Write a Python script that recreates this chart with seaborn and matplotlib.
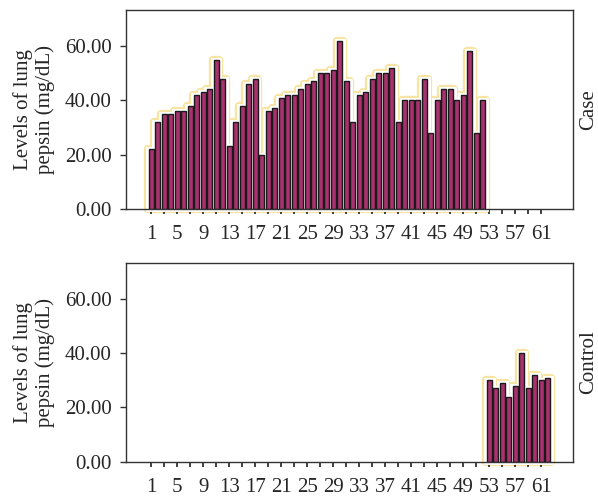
import numpy as np
import pandas as pd
import matplotlib
matplotlib.use("Agg")
import matplotlib.pyplot as plt
import seaborn as sns

# values (subjects 1-52 case, 53-62 control)
case_values = [22, 32, 35, 35, 36, 36, 38, 42, 43, 44,
               55, 48, 23, 32, 38, 46, 48, 20, 36, 37,
               41, 42, 42, 44, 46, 47, 50, 50, 51, 62,
               47, 32, 42, 43, 48, 50, 50, 52, 32, 40,
               40, 40, 48, 28, 40, 44, 44, 40, 42, 58,
               28, 40]
control_values = [30, 27, 29, 24, 28, 40, 27, 32, 30, 31]
subjects = [str(i) for i in range(1, len(case_values) + len(control_values) + 1)]
groups = ["Case", "Control"]
y_ticks = [0, 20, 40, 60]

df = pd.DataFrame({
    "subject": subjects,
    "pepsin": case_values + control_values,
    "group": ["Case"] * len(case_values) + ["Control"] * len(control_values),
})

sns.set_style("ticks")
plt.rcParams["font.family"] = "serif"
plt.rcParams["font.serif"] = ["Liberation Serif", "DejaVu Serif"]
fs = 15

bar_color = "#a8316e"
glow = "#f7e4a3"
dark = "#333333"

fig, axes = plt.subplots(2, 1, figsize=(5.98, 4.96), dpi=100)
fig.subplots_adjust(left=0.211, right=0.958, top=0.980, bottom=0.069, hspace=0.271)

for ax, g in zip(axes, groups):
    sub = df[df.group == g]
    # yellow halo around the bar group, then white to hollow it out
    sns.barplot(data=sub, x="subject", y="pepsin", order=subjects, color=glow,
                saturation=1, width=1.0, linewidth=6, edgecolor=glow,
                errorbar=None, ax=ax)
    for p in ax.containers[-1]:
        p.set_clip_on(False)
        p.set_zorder(0.5)
        p.set_joinstyle("round")
    sns.barplot(data=sub, x="subject", y="pepsin", order=subjects, color="white",
                saturation=1, width=1.0, linewidth=3.5, edgecolor="white",
                errorbar=None, ax=ax)
    for p in ax.containers[-1]:
        p.set_clip_on(False)
        p.set_zorder(0.6)
    sns.barplot(data=sub, x="subject", y="pepsin", order=subjects, color=bar_color,
                saturation=1, width=0.78, linewidth=1, edgecolor="#1a1a1a",
                errorbar=None, ax=ax)
    for p in ax.containers[-1]:
        p.set_zorder(1)

    ax.set_xlim(-3.85, len(subjects) - 1 + 3.85)
    ax.set_ylim(0, 73.3)
    pos = list(range(0, len(subjects), 2))
    ax.set_xticks(pos)
    ax.set_xticklabels([subjects[i] if i % 4 == 0 else "" for i in pos], fontsize=fs)
    ax.set_yticks(y_ticks)
    ax.set_yticklabels([f"{v:.2f}" for v in y_ticks], fontsize=fs)
    ax.tick_params(axis="x", length=3.5, width=1.3, color=dark, pad=8)
    ax.tick_params(axis="y", length=4.5, width=1, color=dark, pad=6)
    for s in ax.spines.values():
        s.set_color(dark)
        s.set_linewidth(1)
        s.set_visible(True)
        s.set_zorder(3)
    ax.set_xlabel("")
    ax.set_ylabel("Levels of lung\npepsin (mg/dL)", fontsize=fs, linespacing=1.15)
    ax.yaxis.set_label_coords(-0.16, 0.5)
    ax.text(1.036, 0.5, g, transform=ax.transAxes, rotation=90,
            ha="center", va="center", fontsize=fs)

plt.savefig("out.png", dpi=100)
